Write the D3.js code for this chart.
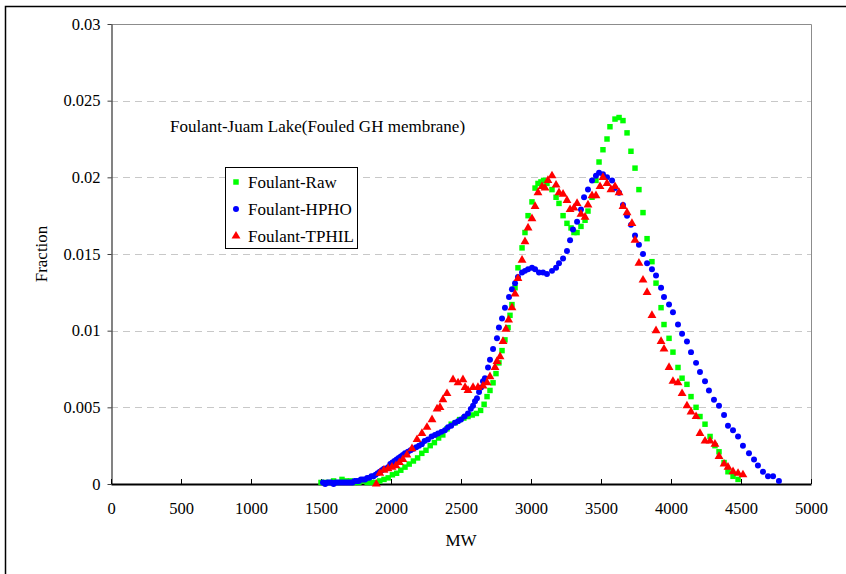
<!DOCTYPE html>
<html>
<head>
<meta charset="utf-8">
<script src="https://d3js.org/d3.v7.min.js"></script>
<style>
  body { margin: 0; background: #fff; }
  svg text { font-family: "Liberation Serif", "Times New Roman", serif; }
</style>
</head>
<body>
<div id="chart"></div>
<script>
// axis ticks
const xTicks = [0, 500, 1000, 1500, 2000, 2500, 3000, 3500, 4000, 4500, 5000]
const yTicks = [0, 0.005, 0.01, 0.015, 0.02, 0.025, 0.03]

// Foulant-Raw  [MW, fraction]
const rawData = [
  [1500,0.0001],[1530,0.0001],[1560,0.0001],[1590,0.0002],[1620,0.0001],[1650,0.0003],[1680,0.0002],
  [1710,0.0002],[1740,0.0001],[1770,0.0001],[1800,0.0002],[1830,0.0001],[1860,0.0001],[1890,0.0001],
  [1920,0.0002],[1950,0.0003],[1980,0.0004],[2010,0.0006],[2040,0.0007],[2070,0.0009],[2100,0.0011],
  [2130,0.0013],[2160,0.0015],[2190,0.0017],[2220,0.002],[2250,0.0022],[2280,0.0025],[2310,0.0027],
  [2340,0.003],[2370,0.0032],[2400,0.0036],[2430,0.0039],[2460,0.004],[2490,0.0042],[2520,0.0043],
  [2550,0.0044],[2580,0.0045],[2610,0.0046],[2640,0.0048],[2665,0.0052],[2686,0.0057],[2707,0.0061],
  [2729,0.0066],[2750,0.0072],[2771,0.0079],[2793,0.0087],[2814,0.0094],[2836,0.0102],[2850,0.011],
  [2864,0.0117],[2886,0.0128],[2907,0.0141],[2936,0.0154],[2957,0.0164],[2979,0.0175],[3007,0.0184],
  [3029,0.0193],[3050,0.0196],[3071,0.0197],[3090,0.0198],[3114,0.0196],[3150,0.0192],[3179,0.0187],
  [3200,0.0183],[3229,0.0175],[3257,0.017],[3286,0.0167],[3307,0.0164],[3329,0.0164],[3357,0.0168],
  [3386,0.0172],[3407,0.0178],[3436,0.0187],[3464,0.0198],[3486,0.021],[3514,0.0218],[3543,0.0225],
  [3564,0.0233],[3600,0.0238],[3629,0.0239],[3657,0.0237],[3686,0.0229],[3714,0.0217],[3743,0.0206],
  [3771,0.0192],[3800,0.0177],[3829,0.016],[3864,0.0145],[3893,0.0131],[3929,0.0115],[3950,0.0104],
  [3986,0.0095],[4014,0.0086],[4050,0.0076],[4079,0.0069],[4114,0.0065],[4143,0.0057],[4179,0.005],
  [4207,0.0044],[4243,0.0039],[4279,0.0031],[4314,0.0025],[4343,0.0021],[4379,0.0014],[4407,0.0008],
  [4443,0.0005],[4479,0.0003]
]

// Foulant-HPHO
const hphoData = [
  [1514,0.0001],[1530,0.0],[1545,0.0001],[1560,0.0001],[1575,0.0001],[1590,0.0],[1605,0.0001],
  [1620,0.0001],[1635,0.0001],[1650,0.0001],[1665,0.0001],[1680,0.0001],[1695,0.0001],[1710,0.0001],
  [1725,0.0001],[1740,0.0002],[1755,0.0002],[1770,0.0002],[1785,0.0003],[1800,0.0003],[1815,0.0003],
  [1830,0.0004],[1845,0.0004],[1860,0.0005],[1875,0.0005],[1890,0.0006],[1905,0.0007],[1920,0.0008],
  [1935,0.0009],[1950,0.001],[1965,0.001],[1979,0.0011],[1995,0.0013],[2010,0.0014],[2025,0.0015],
  [2040,0.0016],[2055,0.0017],[2070,0.0018],[2085,0.0019],[2100,0.002],[2121,0.0021],[2140,0.0022],
  [2160,0.0023],[2180,0.0024],[2200,0.0025],[2220,0.0026],[2240,0.0028],[2264,0.0029],[2290,0.0031],
  [2314,0.0032],[2336,0.0033],[2360,0.0034],[2385,0.0035],[2407,0.0037],[2430,0.0038],[2457,0.004],
  [2479,0.0041],[2500,0.0042],[2525,0.0044],[2550,0.0046],[2570,0.0049],[2586,0.0051],[2600,0.0054],
  [2614,0.0056],[2629,0.006],[2643,0.0063],[2657,0.0067],[2671,0.0069],[2693,0.0076],[2707,0.0081],
  [2729,0.0088],[2757,0.0095],[2771,0.0102],[2793,0.0108],[2814,0.0115],[2843,0.0122],[2864,0.0127],
  [2886,0.0131],[2907,0.0135],[2936,0.0138],[2957,0.0139],[2979,0.014],[3007,0.0141],[3029,0.014],
  [3057,0.0138],[3086,0.0138],[3114,0.0137],[3150,0.0139],[3179,0.0141],[3200,0.0144],[3229,0.0147],
  [3257,0.0152],[3279,0.0159],[3300,0.0166],[3329,0.0171],[3357,0.0179],[3379,0.0187],[3407,0.0192],
  [3436,0.0198],[3464,0.0201],[3486,0.0203],[3514,0.0202],[3543,0.02],[3579,0.0198],[3600,0.0193],
  [3629,0.019],[3657,0.0182],[3686,0.0175],[3714,0.0169],[3743,0.0162],[3771,0.0156],[3800,0.015],
  [3829,0.0144],[3864,0.014],[3893,0.0136],[3929,0.0128],[3950,0.0122],[3986,0.0117],[4014,0.0112],
  [4050,0.0104],[4079,0.0098],[4114,0.0093],[4143,0.0086],[4179,0.0079],[4207,0.0073],[4243,0.0067],
  [4271,0.0061],[4307,0.0055],[4343,0.0051],[4379,0.0045],[4407,0.0038],[4443,0.0035],[4479,0.0031],
  [4514,0.0025],[4557,0.002],[4593,0.0016],[4621,0.0012],[4657,0.0008],[4693,0.0005],[4729,0.0005],
  [4771,0.0002]
]

// Foulant-TPHIL
const tphilData = [
  [1895,0.0],[1920,0.0007],[1950,0.0009],[1979,0.001],[2007,0.0011],[2035,0.0012],[2060,0.0014],
  [2085,0.0016],[2114,0.0019],[2150,0.0023],[2186,0.0029],[2221,0.0033],[2257,0.0037],[2293,0.0042],
  [2329,0.0049],[2350,0.005],[2371,0.0055],[2400,0.0059],[2443,0.0068],[2479,0.0066],[2514,0.0068],
  [2529,0.0063],[2550,0.0061],[2586,0.0063],[2621,0.0063],[2657,0.0064],[2686,0.0066],[2707,0.007],
  [2743,0.0076],[2757,0.008],[2779,0.0083],[2800,0.0093],[2821,0.0101],[2840,0.0107],[2864,0.0115],
  [2886,0.0124],[2907,0.0134],[2936,0.0146],[2957,0.0158],[2979,0.0167],[3007,0.0173],[3029,0.0181],
  [3050,0.019],[3079,0.0194],[3100,0.0193],[3121,0.0198],[3150,0.0201],[3179,0.0195],[3200,0.019],
  [3229,0.0189],[3257,0.0185],[3279,0.0179],[3307,0.018],[3329,0.0183],[3357,0.0176],[3386,0.0174],
  [3407,0.0182],[3436,0.0188],[3464,0.0188],[3493,0.0194],[3514,0.02],[3543,0.0196],[3571,0.0192],
  [3600,0.0194],[3629,0.019],[3657,0.0181],[3686,0.0177],[3721,0.017],[3743,0.0159],[3771,0.0144],
  [3800,0.0133],[3829,0.0125],[3864,0.011],[3893,0.01],[3929,0.0093],[3950,0.0088],[3986,0.0076],
  [4014,0.0067],[4050,0.0066],[4079,0.0059],[4114,0.0051],[4143,0.0047],[4179,0.0044],[4207,0.0033],
  [4243,0.0028],[4279,0.0028],[4314,0.0026],[4343,0.0018],[4379,0.0013],[4407,0.0011],[4443,0.0008],
  [4479,0.0007],[4514,0.0006]
]

const seriesNames = ['Foulant-Raw', 'Foulant-HPHO', 'Foulant-TPHIL']
const seriesColors = ['#00ff00', '#0000ff', '#ff0000']
const seriesSymbols = [d3.symbolSquare, d3.symbolCircle, d3.symbolTriangle]
const seriesData = [rawData, hphoData, tphilData]

const W = 846, H = 574
const margin = {top: 24, right: 35, bottom: 90, left: 111}

const svg = d3.select('#chart').append('svg')
  .attr('width', W).attr('height', H)

// outer frame (cropped on right and bottom)
svg.append('path')
  .attr('d', `M5.5,${H} L5.5,6.5 L${W},6.5`)
  .attr('fill', 'none').attr('stroke', '#000').attr('stroke-width', 1.5)

const x = d3.scaleLinear().domain([0, 5000]).range([margin.left, W - margin.right])
const y = d3.scaleLinear().domain([0, 0.03]).range([H - margin.bottom, margin.top])

// grid lines
svg.append('g')
  .selectAll('line')
  .data(yTicks.filter(d => d > 0 && d < 0.03))
  .enter().append('line')
  .attr('x1', x(0)).attr('x2', x(5000))
  .attr('y1', d => Math.round(y(d)) + 0.5).attr('y2', d => Math.round(y(d)) + 0.5)
  .attr('stroke', '#c8c8c8').attr('stroke-dasharray', '7,5')

// plot border top/right
svg.append('path')
  .attr('d', `M${x(0)},${Math.round(y(0.03)) + 0.5} H${Math.round(x(5000)) + 0.5} V${y(0)}`)
  .attr('fill', 'none').attr('stroke', '#8c8c8c').attr('stroke-width', 1)

// y axis
const yAxis = svg.append('g')
  .attr('transform', `translate(${Math.round(x(0)) + 0.5},0)`)
  .call(d3.axisLeft(y).tickValues(yTicks).tickSize(4).tickSizeOuter(0).tickFormat(d => d === 0 ? '0' : String(+d.toFixed(3))))
yAxis.select('.domain').attr('stroke', '#404040').attr('stroke-width', 1.3)
yAxis.selectAll('.tick line').attr('stroke', '#404040')
yAxis.selectAll('text').attr('font-size', 16.5).attr('fill', '#000').attr('dx', -4)

// x axis
const xAxis = svg.append('g')
  .attr('transform', `translate(0,${Math.round(y(0))})`)
  .call(d3.axisBottom(x).tickValues(xTicks).tickSize(-5).tickSizeOuter(0).tickFormat(d3.format('d')))
xAxis.select('.domain').attr('stroke', '#000').attr('stroke-width', 2)
xAxis.selectAll('.tick line').attr('stroke', '#000')
xAxis.selectAll('text').attr('font-size', 16.5).attr('fill', '#000').attr('y', 30).attr('dy', 0)

// axis titles
svg.append('text')
  .attr('x', x(2500)).attr('y', 546)
  .attr('text-anchor', 'middle').attr('font-size', 17)
  .text('MW')
svg.append('text')
  .attr('transform', `translate(47,${y(0.015)}) rotate(-90)`)
  .attr('text-anchor', 'middle').attr('font-size', 17)
  .text('Fraction')

// annotation
svg.append('text')
  .attr('x', 170).attr('y', 132)
  .attr('font-size', 17)
  .text('Foulant-Juam Lake(Fouled GH membrane)')

// scatter markers
const sizes = [30, 28, 34]
seriesData.forEach((data, i) => {
  svg.append('g')
    .selectAll('path')
    .data(data)
    .enter().append('path')
    .attr('d', d3.symbol().type(seriesSymbols[i]).size(sizes[i]))
    .attr('transform', d => `translate(${x(d[0])},${y(d[1])})`)
    .attr('fill', seriesColors[i])
})

// legend
const legend = svg.append('g').attr('transform', 'translate(225,167)')
legend.append('rect')
  .attr('x', 0.5).attr('y', 0.5).attr('width', 132).attr('height', 81)
  .attr('fill', '#fff').attr('stroke', '#000').attr('stroke-width', 1)
seriesNames.forEach((name, i) => {
  legend.append('path')
    .attr('d', d3.symbol().type(seriesSymbols[i]).size(sizes[i]))
    .attr('transform', `translate(11,${15 + i * 27})`)
    .attr('fill', seriesColors[i])
  legend.append('text')
    .attr('x', 23).attr('y', 21 + i * 27)
    .attr('font-size', 17)
    .text(name)
})
</script>
</body>
</html>
